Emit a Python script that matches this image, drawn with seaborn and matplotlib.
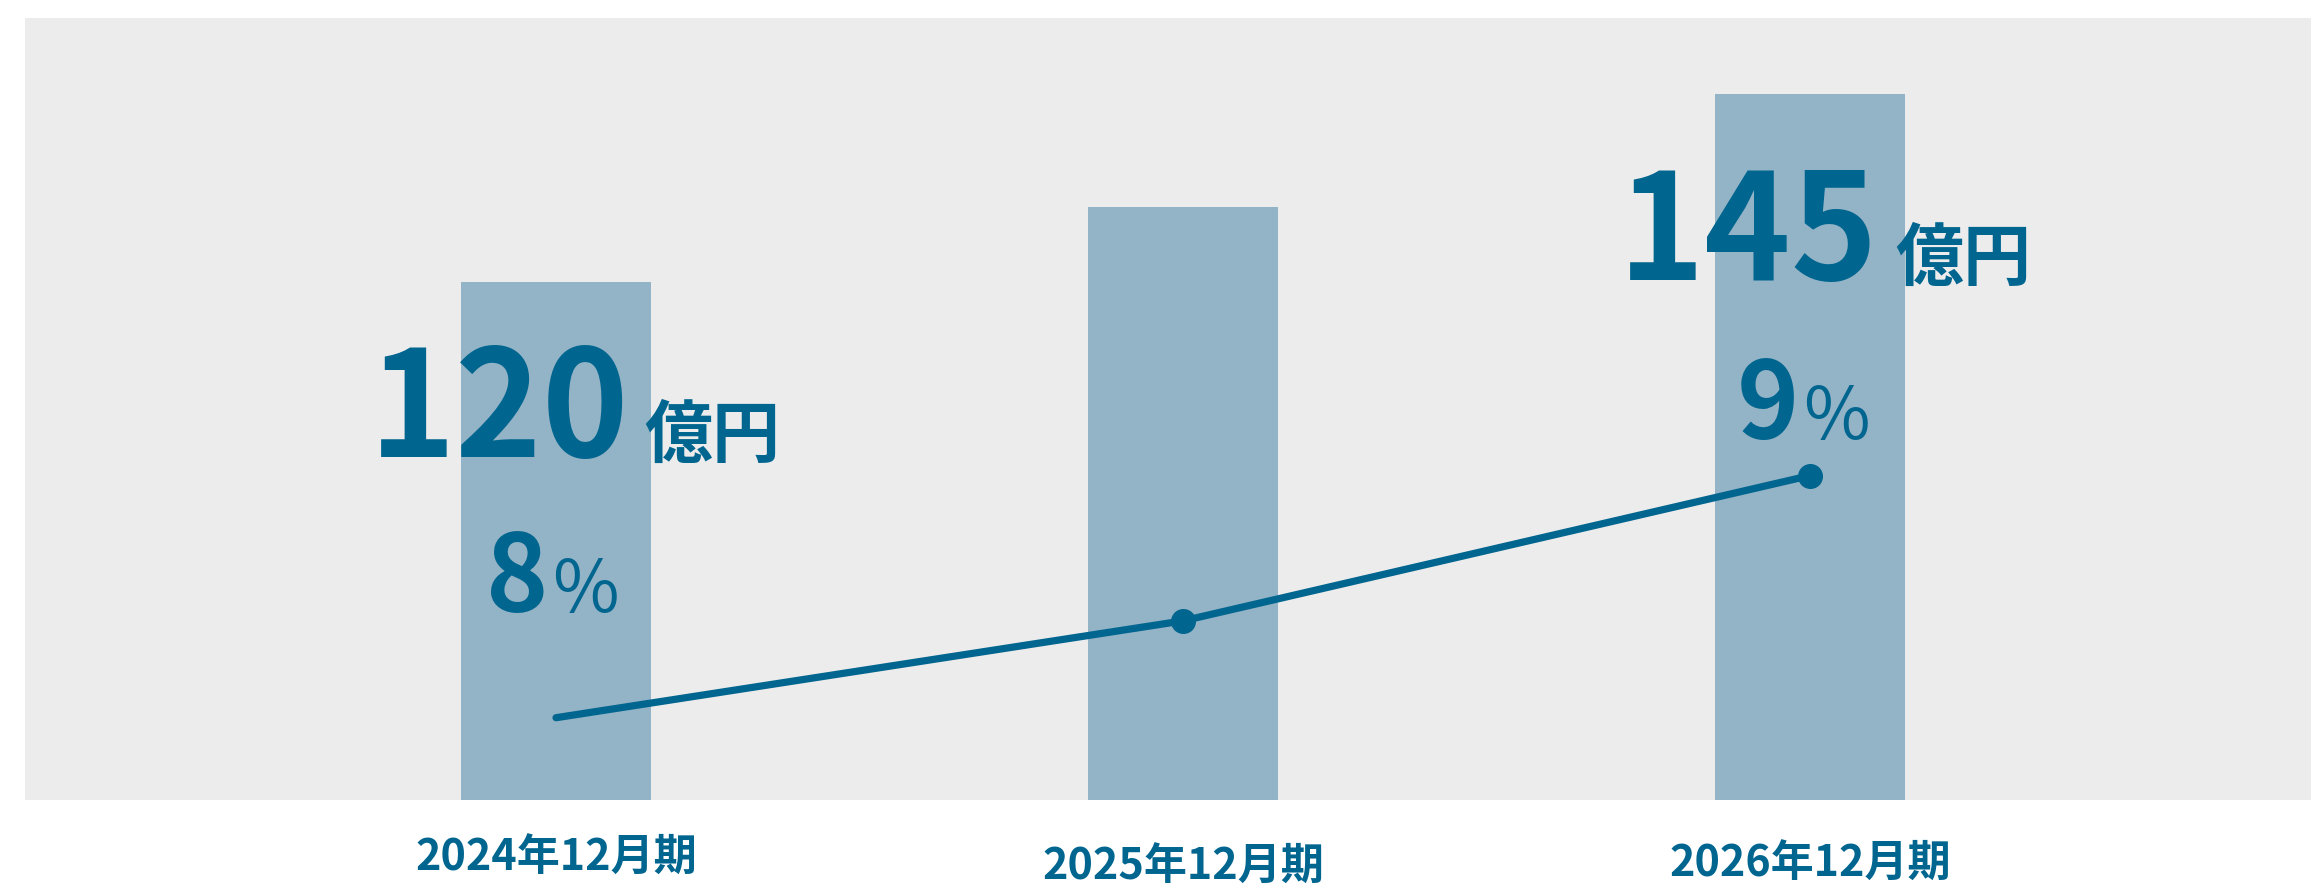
import numpy as np
import matplotlib
matplotlib.use("Agg")
import matplotlib.pyplot as plt
import seaborn as sns

# data
periods = ["2024年12月期", "2025年12月期", "2026年12月期"]
sales = [120, 130, 145]          # 億円
rates = [8.0, 8.4, 9.0]          # %
sales_labels = ["120", "", "145"]
rate_labels = ["8", "", "9"]

bar_color = "#93b3c6"
main_color = "#00658f"
panel_color = "#ececec"

sns.set_style("white")
plt.rcParams['font.family'] = ['Noto Sans CJK JP', 'DejaVu Sans']

fig = plt.figure(figsize=(23.11, 8.85), dpi=100)
ax = fig.add_axes([0.0108, 0.096, 0.9892, 0.8837])
ax.set_facecolor(panel_color)

sns.barplot(x=periods, y=sales, color=bar_color, width=0.303, saturation=1,
            linewidth=0, ax=ax)
ax.set_xlim(-0.847, 2.799)
ax.set_ylim(51.1, 155.1)
ax.set_xlabel("")
ax.set_ylabel("")
ax.set_xticks([])
ax.set_yticks([])
for s in ax.spines.values():
    s.set_visible(False)

# growth rate line on a twin axis
ax2 = ax.twinx()
xs = np.arange(len(rates))
ax2.plot(xs, rates, color=main_color, lw=5.2, marker='o', markersize=17,
         markevery=[1, 2], solid_capstyle='round')
ax2.set_ylim(7.66, 10.89)
ax2.set_yticks([])
for s in ax2.spines.values():
    s.set_visible(False)

# category labels (slightly staggered as in the original)
label_y = [-0.074, -0.086, -0.082]
for i, lab in enumerate(periods):
    ax.text(i, label_y[i], lab, transform=ax.get_xaxis_transform(),
            ha='center', va='center', fontsize=31, fontweight='bold',
            color=main_color)

# value labels, offsets in pixels from the bar top
num_off = {0: (-57, -175), 2: (-62, -186)}
unit_off = {0: (88, -175), 2: (85, -186)}
pct_off = {0: (-8, -330), 2: (-11, -345)}
for i in [0, 2]:
    ax.annotate(sales_labels[i], (i, sales[i]), xytext=num_off[i],
                textcoords='offset pixels', ha='center', va='baseline',
                fontsize=106, fontweight='bold', color=main_color)
    ax.annotate("億円", (i, sales[i]), xytext=unit_off[i],
                textcoords='offset pixels', ha='left', va='baseline',
                fontsize=49, fontweight='bold', color=main_color)
    ax.annotate(rate_labels[i], (i, sales[i]), xytext=pct_off[i],
                textcoords='offset pixels', ha='right', va='baseline',
                fontsize=76, fontweight='bold', color=main_color)
    ax.annotate("%", (i, sales[i]), xytext=(pct_off[i][0] + 4, pct_off[i][1]),
                textcoords='offset pixels', ha='left', va='baseline',
                fontsize=52, color=main_color)

fig.savefig("out.png", dpi=100, facecolor="white")
